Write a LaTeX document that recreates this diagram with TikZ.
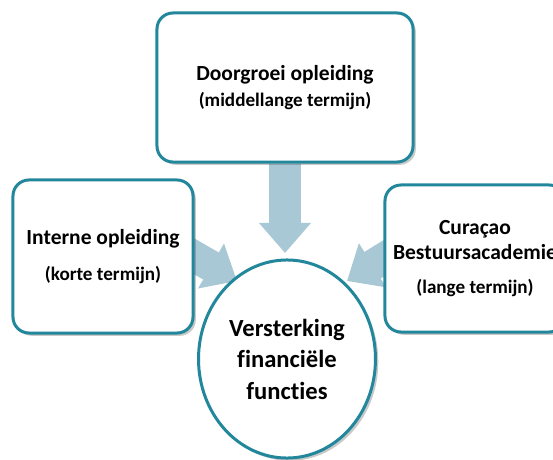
\documentclass[tikz,border=0pt]{standalone}
\usepackage{fontspec}
\setmainfont[Ligatures=NoCommon]{Carlito}
\usetikzlibrary{arrows.meta,shadows,backgrounds,shapes.geometric}
\definecolor{tealline}{HTML}{23879C}
\definecolor{arrowblue}{HTML}{A8C8D5}
\newcommand\boxfont{\fontsize{15.3}{20}\selectfont\bfseries}
\newcommand\termfont{\fontsize{13.6}{18}\selectfont\bfseries}
\newcommand\circfont{\fontsize{17.5}{22.4}\selectfont\bfseries}

\begin{document}
\begin{tikzpicture}[x=0.025cm, y=-0.025cm,
    box/.style={draw=tealline, line width=0.075cm, rounded corners=0.4cm, fill=white, align=center, font=\boxfont,
        drop shadow={shadow xshift=0.07cm, shadow yshift=-0.07cm, opacity=0.3, fill=black!70}},
    bigarrow/.style={draw=arrowblue, line width=0.78cm, -{Triangle[width=1.25cm, length=0.75cm]}}]
    \clip (0,0) rectangle (553,460);
    \node[box, minimum width=6.4cm, minimum height=3.725cm] (top) at (285,87.5) {Doorgroei opleiding\\[-2pt]{\termfont (middellange termijn)}};
    \node[box, minimum width=4.5cm, minimum height=3.825cm] (inl) at (103,256.5) {Interne opleiding\\[6pt]{\termfont (korte termijn)}};
    \node[box, minimum width=4.5cm, minimum height=3.675cm] (cba) at (475,258.5) {Cura\c{c}ao\\[-2pt]Bestuursacademie\\[4pt]{\termfont (lange termijn)}};
    \node[box, ellipse, minimum width=4.075cm, minimum height=4.95cm, font=\circfont] (vff) at (287,359) {Versterking\\financiële\\functies};

    \coordinate (tipT) at (285,253);
    \coordinate (tipL) at (237,281);
    \coordinate (tipR) at (347,281);

    \begin{scope}[on background layer]
        \draw[bigarrow] (top) -- (tipT);
        \draw[bigarrow, shorten <=-0.6cm] (inl.east) -- (tipL);
        \draw[bigarrow, shorten <=-0.6cm] (cba.west) -- (tipR);
    \end{scope}
\end{tikzpicture}
\end{document}
